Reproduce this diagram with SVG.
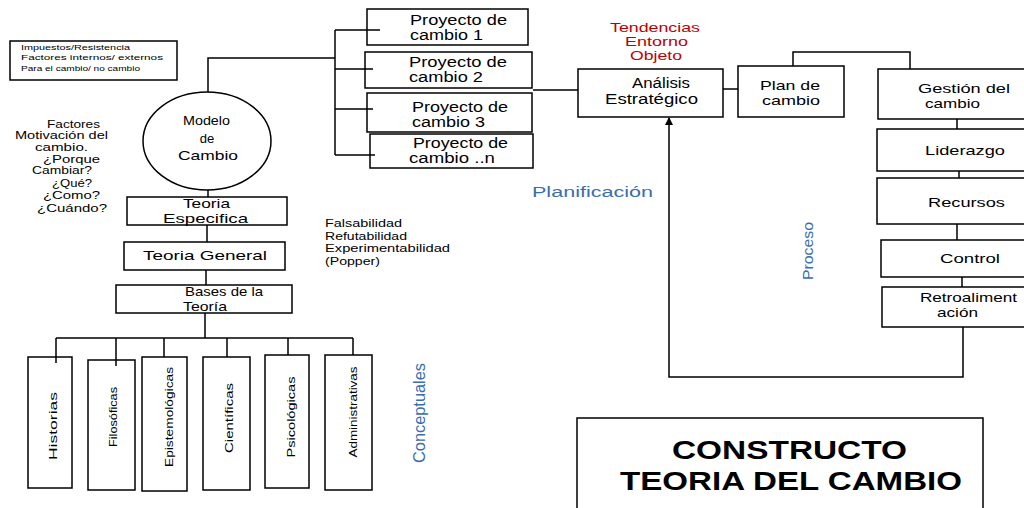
<svg xmlns="http://www.w3.org/2000/svg" width="1024" height="508" viewBox="0 0 1024 508">
<defs>
<style>
.b{fill:#fff;stroke:#000;stroke-width:1.5}
.t{font-family:"Liberation Sans",Arial,sans-serif;fill:#000}
.c{fill:none;stroke:#000;stroke-width:1.5}
.blue{fill:#3a6db0}
.red{fill:#c00000}
</style>
<marker id="ah" markerWidth="8" markerHeight="8" refX="7" refY="4" orient="auto" markerUnits="userSpaceOnUse">
<path d="M0,0 L8,4 L0,8 Z" fill="#000"/>
</marker>
</defs>
<rect width="1024" height="508" fill="#fff"/>

<g id="nota">
<rect class="b" x="10" y="41" width="167" height="39"/>
<text class="t" font-size="8"><tspan x="21" y="50" textLength="109" lengthAdjust="spacingAndGlyphs">Impuestos/Resistencia</tspan><tspan x="21" y="60" textLength="142" lengthAdjust="spacingAndGlyphs">Factores internos/ externos</tspan><tspan x="21" y="71" textLength="119" lengthAdjust="spacingAndGlyphs">Para el cambio/ no cambio</tspan></text>
</g>

<g id="factores">
<text class="t" font-size="10.5">
<tspan x="47" y="128" textLength="53" lengthAdjust="spacingAndGlyphs">Factores</tspan>
<tspan x="15" y="139" textLength="93" lengthAdjust="spacingAndGlyphs">Motivación del</tspan>
<tspan x="35" y="151" textLength="53" lengthAdjust="spacingAndGlyphs">cambio.</tspan>
<tspan x="43" y="163" textLength="57" lengthAdjust="spacingAndGlyphs">¿Porque</tspan>
<tspan x="32" y="174" textLength="60" lengthAdjust="spacingAndGlyphs">Cambiar?</tspan>
<tspan x="52" y="187" textLength="40" lengthAdjust="spacingAndGlyphs">¿Qué?</tspan>
<tspan x="43" y="199" textLength="57" lengthAdjust="spacingAndGlyphs">¿Como?</tspan>
<tspan x="37" y="212" textLength="70" lengthAdjust="spacingAndGlyphs">¿Cuándo?</tspan>
</text>
</g>

<g id="modelo">
<ellipse class="b" cx="207" cy="141" rx="64" ry="49"/>
<text class="t" font-size="13"><tspan x="183" y="125" textLength="47" lengthAdjust="spacingAndGlyphs">Modelo</tspan><tspan x="207" y="143" text-anchor="middle">de</tspan><tspan x="178" y="160" textLength="60" lengthAdjust="spacingAndGlyphs">Cambio</tspan></text>
</g>

<g id="proy1">
<rect class="b" x="367" y="9" width="161" height="36"/>
<text class="t" font-size="14"><tspan x="410" y="25" textLength="97" lengthAdjust="spacingAndGlyphs">Proyecto de</tspan><tspan x="410" y="40" textLength="73" lengthAdjust="spacingAndGlyphs">cambio 1</tspan></text>
</g>
<g id="proy2">
<rect class="b" x="365" y="52" width="167" height="36"/>
<text class="t" font-size="14"><tspan x="409" y="67" textLength="98" lengthAdjust="spacingAndGlyphs">Proyecto de</tspan><tspan x="409" y="82" textLength="74" lengthAdjust="spacingAndGlyphs">cambio 2</tspan></text>
</g>
<g id="proy3">
<rect class="b" x="367" y="93" width="165" height="39"/>
<text class="t" font-size="14"><tspan x="412" y="112" textLength="96" lengthAdjust="spacingAndGlyphs">Proyecto de</tspan><tspan x="412" y="127" textLength="73" lengthAdjust="spacingAndGlyphs">cambio 3</tspan></text>
</g>
<g id="proyn">
<rect class="b" x="370" y="134" width="163" height="34"/>
<text class="t" font-size="14"><tspan x="413" y="148" textLength="95" lengthAdjust="spacingAndGlyphs">Proyecto de</tspan><tspan x="409" y="163" textLength="86" lengthAdjust="spacingAndGlyphs">cambio  ..n</tspan></text>
</g>

<g id="tendencias">
<text class="t red" font-size="13"><tspan x="610" y="32" textLength="90" lengthAdjust="spacingAndGlyphs">Tendencias</tspan><tspan x="625" y="46" textLength="63" lengthAdjust="spacingAndGlyphs">Entorno</tspan><tspan x="630" y="60" textLength="52" lengthAdjust="spacingAndGlyphs">Objeto</tspan></text>
</g>

<g id="analisis">
<rect class="b" x="578" y="69" width="145" height="48"/>
<text class="t" font-size="14"><tspan x="632" y="88" textLength="58" lengthAdjust="spacingAndGlyphs">Análisis</tspan><tspan x="605" y="104" textLength="93" lengthAdjust="spacingAndGlyphs">Estratégico</tspan></text>
</g>

<g id="plan">
<rect class="b" x="738" y="66" width="106" height="51"/>
<text class="t" font-size="13"><tspan x="760" y="90" textLength="60" lengthAdjust="spacingAndGlyphs">Plan de</tspan><tspan x="762" y="105" textLength="58" lengthAdjust="spacingAndGlyphs">cambio</tspan></text>
</g>

<g id="gestion">
<rect class="b" x="878" y="69" width="160" height="50"/>
<text class="t" font-size="13"><tspan x="918" y="93" textLength="92" lengthAdjust="spacingAndGlyphs">Gestión del</tspan><tspan x="925" y="108" textLength="55" lengthAdjust="spacingAndGlyphs">cambio</tspan></text>
</g>
<g id="liderazgo">
<rect class="b" x="877" y="129" width="160" height="42"/>
<text class="t" font-size="13" x="925" y="155" textLength="80" lengthAdjust="spacingAndGlyphs">Liderazgo</text>
</g>
<g id="recursos">
<rect class="b" x="877" y="178" width="160" height="46"/>
<text class="t" font-size="13" x="928" y="207" textLength="77" lengthAdjust="spacingAndGlyphs">Recursos</text>
</g>
<g id="control">
<rect class="b" x="881" y="240" width="156" height="37"/>
<text class="t" font-size="13" x="940" y="263" textLength="60" lengthAdjust="spacingAndGlyphs">Control</text>
</g>
<g id="retro">
<rect class="b" x="882" y="287" width="155" height="40"/>
<text class="t" font-size="13"><tspan x="920" y="302" textLength="97" lengthAdjust="spacingAndGlyphs">Retroaliment</tspan><tspan x="937" y="317" textLength="41" lengthAdjust="spacingAndGlyphs">ación</tspan></text>
</g>

<g id="planificacion">
<text class="t blue" font-size="14" x="532" y="197" textLength="121" lengthAdjust="spacingAndGlyphs">Planificación</text>
</g>
<g id="proceso">
<text class="t blue" font-size="15" transform="translate(813,251) rotate(-90)" text-anchor="middle" textLength="58" lengthAdjust="spacingAndGlyphs">Proceso</text>
</g>
<g id="conceptuales">
<text class="t blue" font-size="16" transform="translate(425,413) rotate(-90)" text-anchor="middle" textLength="100" lengthAdjust="spacingAndGlyphs">Conceptuales</text>
</g>

<g id="popper">
<text class="t" font-size="10"><tspan x="325" y="227" textLength="77" lengthAdjust="spacingAndGlyphs">Falsabilidad</tspan><tspan x="325" y="239.5" textLength="82" lengthAdjust="spacingAndGlyphs">Refutabilidad</tspan><tspan x="325" y="252" textLength="125" lengthAdjust="spacingAndGlyphs">Experimentabilidad</tspan><tspan x="325" y="264.5" textLength="55" lengthAdjust="spacingAndGlyphs">(Popper)</tspan></text>
</g>

<g id="especifica">
<rect class="b" x="127" y="197" width="160" height="28"/>
<text class="t" font-size="13"><tspan x="183" y="208" textLength="47" lengthAdjust="spacingAndGlyphs">Teoria</tspan><tspan x="163" y="223" textLength="85" lengthAdjust="spacingAndGlyphs">Especifica</tspan></text>
</g>
<g id="general">
<rect class="b" x="124" y="242" width="161" height="28"/>
<text class="t" font-size="13" x="143" y="260" textLength="124" lengthAdjust="spacingAndGlyphs">Teoria  General</text>
</g>
<g id="bases">
<rect class="b" x="116" y="285" width="176" height="28"/>
<text class="t" font-size="13"><tspan x="185" y="296" textLength="78" lengthAdjust="spacingAndGlyphs">Bases de la</tspan><tspan x="183" y="311" textLength="44" lengthAdjust="spacingAndGlyphs">Teoría</tspan></text>
</g>

<g id="historias">
<rect class="b" x="28" y="357" width="44" height="131"/>
<text class="t" font-size="11.5" transform="translate(57,426) rotate(-90)" text-anchor="middle" textLength="68" lengthAdjust="spacingAndGlyphs">Historias</text>
</g>
<g id="filosoficas">
<rect class="b" x="88" y="360" width="47" height="130"/>
<text class="t" font-size="11.5" transform="translate(117,417) rotate(-90)" text-anchor="middle" textLength="60" lengthAdjust="spacingAndGlyphs">Filosóficas</text>
</g>
<g id="epistemologicas">
<rect class="b" x="142" y="357" width="45" height="134"/>
<text class="t" font-size="11.5" transform="translate(173,417) rotate(-90)" text-anchor="middle" textLength="100" lengthAdjust="spacingAndGlyphs">Epistemológicas</text>
</g>
<g id="cientificas">
<rect class="b" x="203" y="357" width="47" height="133"/>
<text class="t" font-size="11.5" transform="translate(233,418) rotate(-90)" text-anchor="middle" textLength="70" lengthAdjust="spacingAndGlyphs">Científicas</text>
</g>
<g id="psicologicas">
<rect class="b" x="265" y="355" width="44" height="133"/>
<text class="t" font-size="11.5" transform="translate(295,417) rotate(-90)" text-anchor="middle" textLength="81" lengthAdjust="spacingAndGlyphs">Psicológicas</text>
</g>
<g id="administrativas">
<rect class="b" x="325" y="355" width="47" height="135"/>
<text class="t" font-size="11.5" transform="translate(357,412) rotate(-90)" text-anchor="middle" textLength="91" lengthAdjust="spacingAndGlyphs">Administrativas</text>
</g>

<g id="constructo">
<rect class="b" x="577" y="418" width="406" height="100"/>
<text class="t" font-size="26" font-weight="bold"><tspan x="672" y="459" textLength="235" lengthAdjust="spacingAndGlyphs">CONSTRUCTO</tspan><tspan x="620" y="490" textLength="342" lengthAdjust="spacingAndGlyphs">TEORIA DEL CAMBIO</tspan></text>
</g>

<g id="connectors">
<path class="c" d="M208,92 V58 H335"/>
<path class="c" d="M335,30 V155"/>
<path class="c" d="M335,30 H380 M335,69 H373 M335,109 H373 M335,155 H375"/>
<path class="c" d="M533,90 H578"/>
<path class="c" d="M723,89 H738"/>
<path class="c" d="M793,66 V52 H910 V69"/>
<path class="c" d="M957,119 V129 M959,171 V178 M957,224 V240 M962,277 V287"/>
<path class="c" d="M963,327 V377 H669 V118" marker-end="url(#ah)"/>
<path class="c" d="M208,190 V197 M207,225 V242 M206,270 V285 M205,313 V338"/>
<path class="c" d="M56,338 H353"/>
<path class="c" d="M56,338 V363 M116,338 V366 M164,338 V357 M227,338 V357 M288,338 V355 M353,338 V355"/>
</g>
</svg>
